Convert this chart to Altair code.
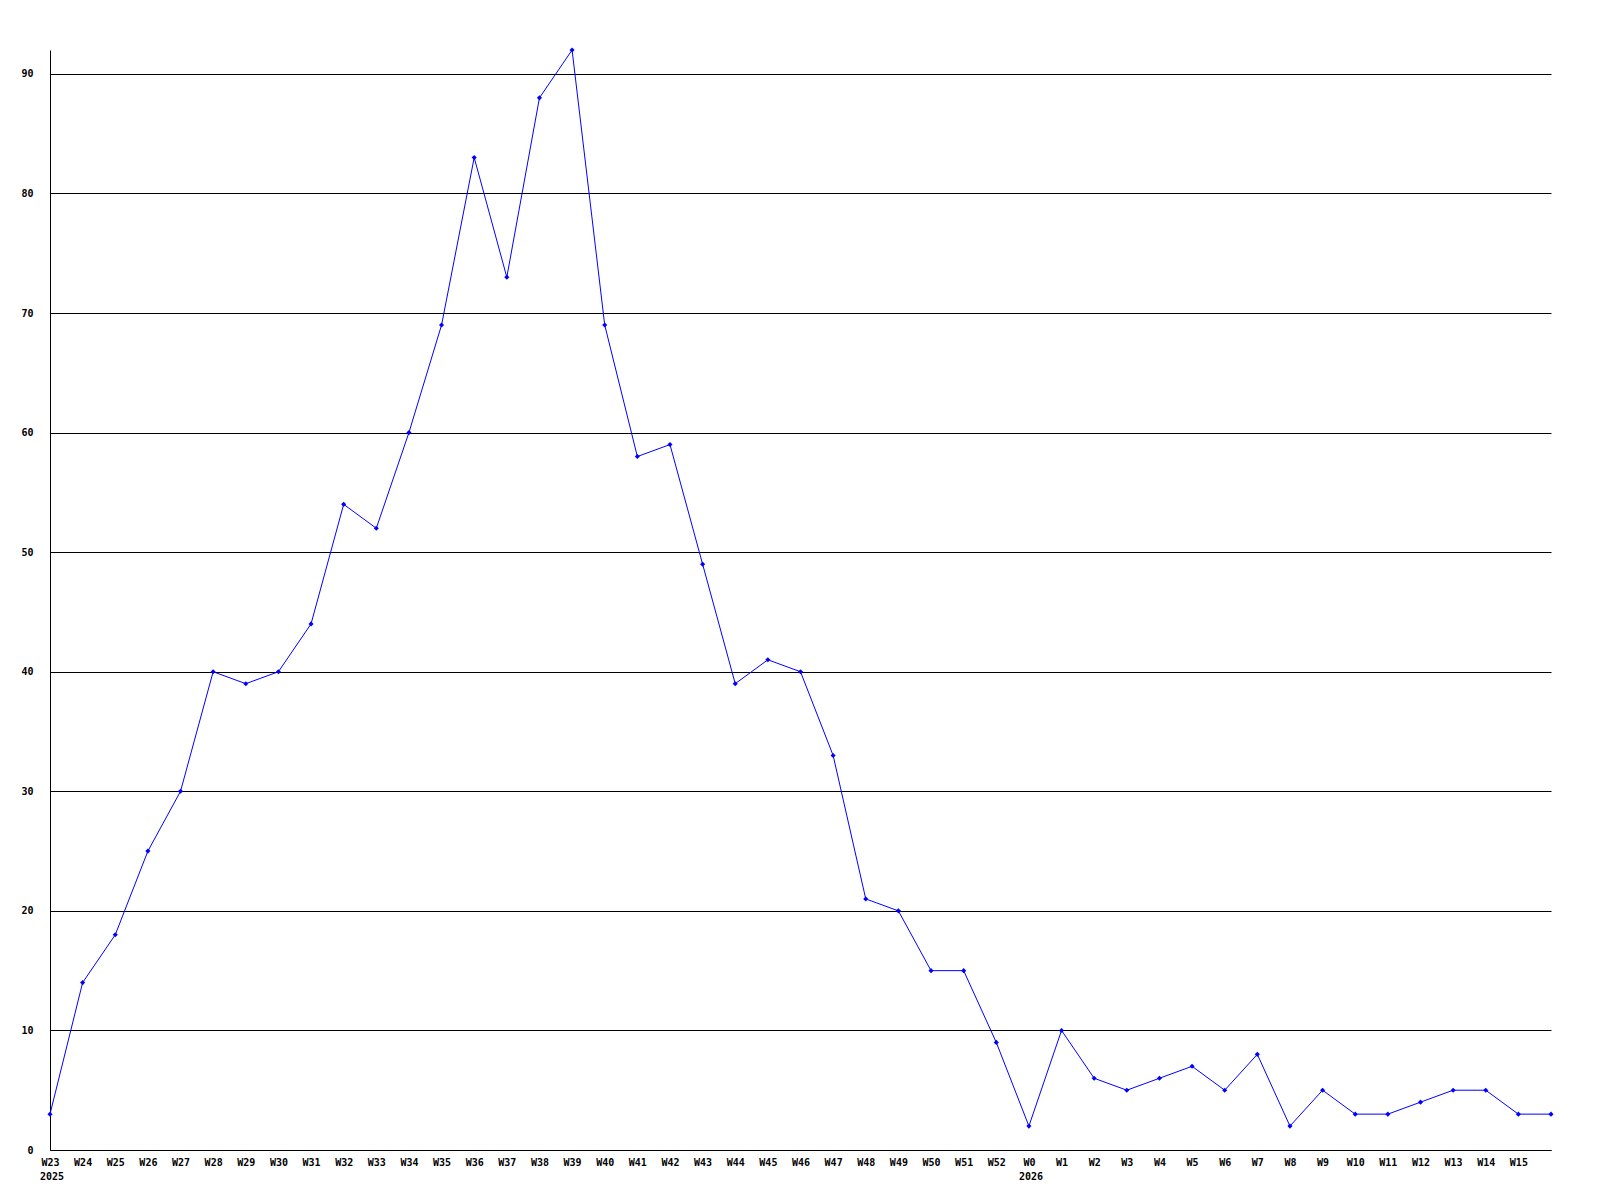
import altair as alt
import pandas as pd

weeks = ["W23", "W24", "W25", "W26", "W27", "W28", "W29", "W30", "W31", "W32",
         "W33", "W34", "W35", "W36", "W37", "W38", "W39", "W40", "W41", "W42",
         "W43", "W44", "W45", "W46", "W47", "W48", "W49", "W50", "W51", "W52",
         "W0", "W1", "W2", "W3", "W4", "W5", "W6", "W7", "W8", "W9",
         "W10", "W11", "W12", "W13", "W14", "W15", "W16"]
values = [3, 14, 18, 25, 30, 40, 39, 40, 44, 54,
          52, 60, 69, 83, 73, 88, 92, 69, 58, 59,
          49, 39, 41, 40, 33, 21, 20, 15, 15, 9,
          2, 10, 6, 5, 6, 7, 5, 8, 2, 5,
          3, 3, 4, 5, 5, 3, 3]
hidden_labels = ["W16"]
year_weeks = ["W23", "W0"]
year_labels = ["2025", "2026"]
y_ticks = [0, 10, 20, 30, 40, 50, 60, 70, 80, 90]

df = pd.DataFrame({"week": weeks, "value": values})
years = pd.DataFrame({"week": year_weeks, "year": year_labels})

W, H = 1501, 1100
FONT = "DejaVu Sans Mono"

x = alt.X("week:N", sort=weeks, scale=alt.Scale(type="point", padding=0),
          axis=alt.Axis(title=None, labelAngle=0, ticks=False, grid=False,
                        domainColor="black",
                        labelFont=FONT, labelFontSize=10, labelFontWeight="bold",
                        labelColor="black", labelPadding=7, labelOverlap=False,
                        labelExpr="datum.value == 'W16' ? '' : datum.label"))
y = alt.Y("value:Q", scale=alt.Scale(domain=[0, 92], nice=False, zero=True),
          axis=alt.Axis(title=None, values=y_ticks, ticks=False, grid=True,
                        gridColor="black", gridOpacity=1, gridWidth=1,
                        domainColor="black", labelFont=FONT, labelFontSize=10,
                        labelFontWeight="bold", labelColor="black", labelPadding=17))

line = alt.Chart(df).mark_line(color="#0000ff", strokeWidth=1).encode(x=x, y=y)
pts = alt.Chart(df).mark_point(shape="diamond", filled=True, color="#0000ff",
                               size=26, opacity=1).encode(x=x, y=y)
yr = alt.Chart(years).mark_text(align="left", baseline="middle", dx=-10,
                                font=FONT, fontSize=10, fontWeight="bold",
                                color="black").encode(
    x=alt.X("week:N", sort=weeks, scale=alt.Scale(type="point", padding=0)),
    y=alt.value(H + 27), text="year:N")

chart = alt.layer(line, pts, yr).properties(
    width=W, height=H,
    background="white",
    autosize=alt.AutoSizeParams(type="none"),
    padding={"left": 42, "top": 42, "right": 40, "bottom": 42},
).configure_view(strokeWidth=0, stroke=None)

chart.save("out.html", embed_options={"renderer": "svg", "actions": False})
